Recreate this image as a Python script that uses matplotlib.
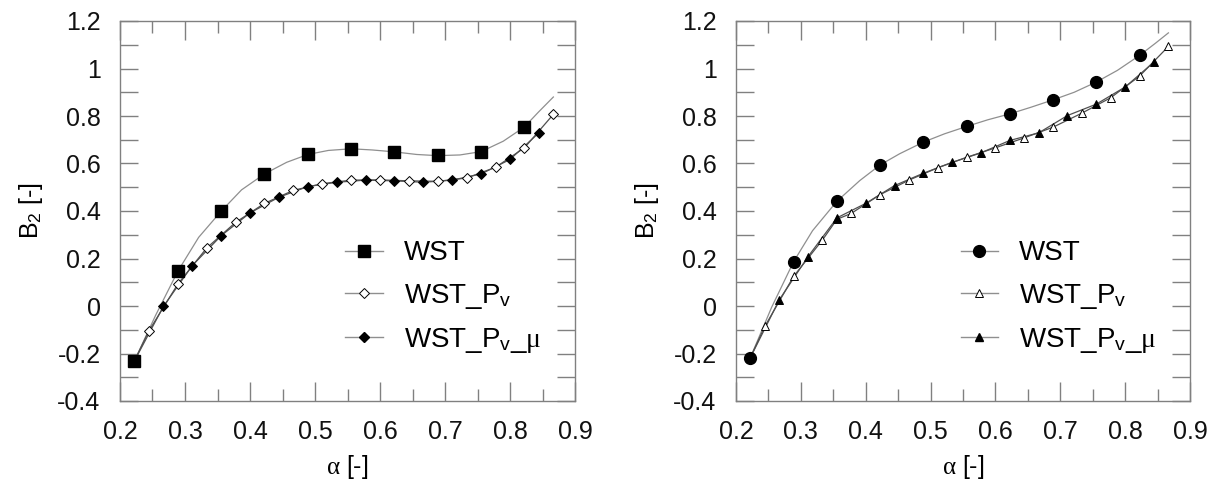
import matplotlib
matplotlib.use("Agg")
import matplotlib.pyplot as plt
from matplotlib.lines import Line2D
from matplotlib import ticker

plt.rcParams['font.family'] = ['Liberation Sans', 'DejaVu Sans']
plt.rcParams['mathtext.fontset'] = 'custom'
plt.rcParams['mathtext.rm'] = 'Liberation Sans'
plt.rcParams['mathtext.it'] = 'Liberation Serif'
plt.rcParams['axes.unicode_minus'] = False

# ---- left panel data ----
l_wst_x = [0.2222, 0.2889, 0.3556, 0.4222, 0.4889, 0.5556, 0.6222, 0.6889, 0.7556, 0.8222]
l_wst_y = [-0.231, 0.146, 0.399, 0.556, 0.638, 0.662, 0.649, 0.634, 0.650, 0.754]
# smooth fit line through WST
l_fit_x = [0.2222, 0.255, 0.2889, 0.321, 0.3556, 0.387, 0.4222, 0.4564, 0.4889, 0.5205,
           0.5556, 0.588, 0.6222, 0.6564, 0.6889, 0.723, 0.7556, 0.7897, 0.8222, 0.8436, 0.8667]
l_fit_y = [-0.231, -0.038, 0.146, 0.289, 0.399, 0.489, 0.556, 0.605, 0.638, 0.655,
           0.662, 0.657, 0.649, 0.638, 0.633, 0.636, 0.650, 0.694, 0.754, 0.816, 0.880]
l_pv_x = [0.2222, 0.2444, 0.2889, 0.3333, 0.3778, 0.4222, 0.4667, 0.5111, 0.5556, 0.6,
          0.6444, 0.6889, 0.7333, 0.7778, 0.8222, 0.8667]
l_pv_y = [-0.231, -0.105, 0.092, 0.244, 0.352, 0.432, 0.487, 0.515, 0.530, 0.531,
          0.527, 0.525, 0.539, 0.584, 0.666, 0.807]
l_pvmu_x = [0.2222, 0.2667, 0.3111, 0.3556, 0.4, 0.4444, 0.4889, 0.5333, 0.5778, 0.6222,
            0.6667, 0.7111, 0.7556, 0.8, 0.8444]
l_pvmu_y = [-0.231, -0.002, 0.170, 0.296, 0.392, 0.458, 0.503, 0.521, 0.530, 0.527,
            0.521, 0.530, 0.556, 0.617, 0.729]

# ---- right panel data ----
r_wst_x = [0.2222, 0.2889, 0.3556, 0.4222, 0.4889, 0.5556, 0.6222, 0.6889, 0.7556, 0.8222]
r_wst_y = [-0.217, 0.187, 0.441, 0.594, 0.690, 0.756, 0.809, 0.868, 0.943, 1.055]
r_fit_x = [0.2222, 0.255, 0.2889, 0.318, 0.3556, 0.3908, 0.4222, 0.4523, 0.4889, 0.5215,
           0.5556, 0.5882, 0.6222, 0.6549, 0.6889, 0.7215, 0.7556, 0.788, 0.8222, 0.847, 0.8667]
r_fit_y = [-0.217, -0.005, 0.187, 0.317, 0.441, 0.528, 0.594, 0.641, 0.690, 0.725,
           0.756, 0.784, 0.809, 0.837, 0.868, 0.900, 0.943, 0.992, 1.055, 1.107, 1.150]
r_pv_x = [0.2222, 0.2444, 0.2889, 0.3333, 0.3556, 0.3778, 0.4222, 0.4667, 0.5111, 0.5556,
          0.6, 0.6444, 0.6889, 0.7333, 0.7778, 0.8222, 0.8667]
r_pv_y = [-0.217, -0.086, 0.125, 0.278, 0.365, 0.390, 0.469, 0.530, 0.582, 0.626,
          0.666, 0.708, 0.753, 0.812, 0.877, 0.968, 1.093]
r_pvmu_x = [0.2222, 0.2667, 0.3111, 0.3556, 0.4, 0.4444, 0.4889, 0.5333, 0.5778, 0.6222,
            0.6667, 0.7111, 0.7556, 0.8, 0.8444]
r_pvmu_y = [-0.217, 0.026, 0.208, 0.371, 0.432, 0.507, 0.559, 0.605, 0.645, 0.697,
            0.729, 0.802, 0.850, 0.922, 1.027]

labels = ['WST', r'WST_P$_{\mathrm{v}}$', r'WST_P$_{\mathrm{v}}$_$\mu$']

fit_col = '#8f8f8f'
pv_col = '#505050'
ax_col = '#808080'

fig = plt.figure(figsize=(12.15, 4.83), dpi=100)
ax1 = fig.add_axes([120 / 1215, 82 / 483, 455 / 1215, 380 / 483])
ax2 = fig.add_axes([736 / 1215, 82 / 483, 454 / 1215, 380 / 483])


def draw(ax, wx, wy, fx, fy, px, py, qx, qy, m_wst, m_pv, m_pvmu, ms_wst, ms_pv):
    ax.plot(fx, fy, '-', color=fit_col, lw=0.9, zorder=2)
    ax.plot(px, py, '-', color=pv_col, lw=0.9, zorder=2)
    ax.plot(qx, qy, '-', color=pv_col, lw=0.9, zorder=2)
    ax.plot(px[1:], py[1:], ls='none', marker=m_pv, ms=ms_pv, mfc='white', mec='black',
            mew=0.7, zorder=3)
    ax.plot(qx[1:], qy[1:], ls='none', marker=m_pvmu, ms=ms_pv, mfc='black', mec='black',
            mew=0.7, zorder=3)
    ax.plot(wx, wy, ls='none', marker=m_wst, ms=ms_wst, mfc='black', mec='black', zorder=4)

    handles = [
        Line2D([], [], color=fit_col, lw=1.0, marker=m_wst, ms=ms_wst, mfc='black', mec='black'),
        Line2D([], [], color=fit_col, lw=1.0, marker=m_pv, ms=ms_pv, mfc='white', mec='black', mew=0.7),
        Line2D([], [], color=fit_col, lw=1.0, marker=m_pvmu, ms=ms_pv, mfc='black', mec='black'),
    ]
    ax.legend(handles, labels, loc='center left', bbox_to_anchor=(0.495, 0.272),
              frameon=False, fontsize=20, handlelength=1.35, handletextpad=0.75,
              labelspacing=0.55, borderpad=0, borderaxespad=0)

    ax.set_xlim(0.2, 0.9)
    ax.set_ylim(-0.4, 1.2)
    ax.xaxis.set_major_locator(ticker.MultipleLocator(0.1))
    ax.xaxis.set_minor_locator(ticker.MultipleLocator(0.05))
    ax.yaxis.set_major_locator(ticker.MultipleLocator(0.2))
    ax.yaxis.set_minor_locator(ticker.MultipleLocator(0.1))
    ax.xaxis.set_major_formatter(ticker.FormatStrFormatter('%g'))
    ax.yaxis.set_major_formatter(ticker.FormatStrFormatter('%g'))
    ax.tick_params(which='both', direction='in', top=True, right=True,
                   color=ax_col, width=1.0, labelsize=18, labelcolor='#111111')
    ax.tick_params(axis='x', which='major', length=14, pad=14)
    ax.tick_params(axis='x', which='minor', length=8.5)
    ax.tick_params(axis='y', which='both', length=13, pad=14)
    for s in ax.spines.values():
        s.set_color(ax_col)
        s.set_linewidth(1.0)
    ax.set_xlabel(r'$\alpha$ [-]', fontsize=18, labelpad=6)
    ax.set_ylabel(r'B$_{\mathrm{2}}$ [-]', fontsize=18, labelpad=9)


draw(ax1, l_wst_x, l_wst_y, l_fit_x, l_fit_y, l_pv_x, l_pv_y, l_pvmu_x, l_pvmu_y,
     's', 'D', 'D', 8.5, 5.2)
draw(ax2, r_wst_x, r_wst_y, r_fit_x, r_fit_y, r_pv_x, r_pv_y, r_pvmu_x, r_pvmu_y,
     'o', '^', '^', 8.5, 6.3)

fig.savefig('out.png', dpi=100)
